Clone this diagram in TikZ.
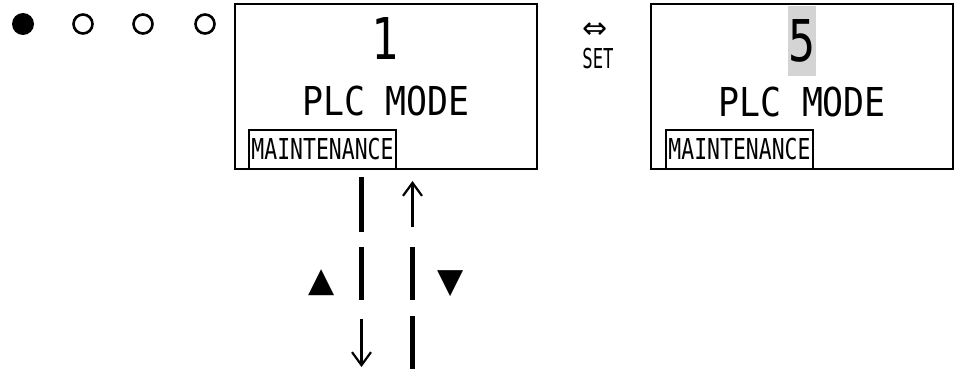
\documentclass[tikz,border=0pt]{standalone}
\usepackage{fontspec}
\usepackage{graphicx}
\newfontfamily\lcdfont{DejaVu Sans Mono}
\newfontfamily\symfont{DejaVu Sans}
\definecolor{cursorgray}{HTML}{D4D4D4}
\usetikzlibrary{positioning, arrows.meta}
\tikzset{
  panel/.style={
    rectangle, draw, line width=2.7pt, minimum width=302pt,
    minimum height=165pt, inner sep=0pt
  },
  modetag/.style={
    rectangle, draw, line width=2.7pt, minimum width=147pt,
    minimum height=39pt, inner sep=0pt, anchor=south west
  },
  lamp/.style={circle, draw, line width=2.6pt, minimum size=19pt, inner sep=0pt},
  lampon/.style={circle, fill=black, minimum size=22pt, inner sep=0pt},
  digit/.style={inner sep=0pt, font=\lcdfont\fontsize{57.6}{60}\selectfont},
  modetext/.style={inner sep=0pt, anchor=base, font=\lcdfont\fontsize{39.8}{42}\selectfont},
  keybar/.style={line width=5pt},
  keyarrow/.style={-{Straight Barb[length=13pt, width=19pt, line width=2.2pt]}, line width=2.2pt},
  keysym/.style={inner sep=0pt, font=\symfont\fontsize{34}{36}\selectfont}
}
\newcommand{\narrow}[2]{\scalebox{#1}[1]{#2}}

\begin{document}
\begin{tikzpicture}[x=1pt, y=-1pt]
\useasboundingbox (0,0) rectangle (960,369);

% Column positions
\def\xpanA{386}   % panel showing current value
\def\xpanB{802}   % panel while editing
\def\xdown{361.5} % left key column
\def\xup{412.5}   % right key column

% Status lamps
\node[lampon] (lampa) at (23,24) {};
\foreach \x/\n in {83/b, 143/c, 205/d} {
  \node[lamp] (lamp\n) at (\x,24) {};
}

% Panels
\node[panel] (panA) at (\xpanA, 86.5) {};
\node[panel] (panB) at (\xpanB, 86.5) {};

% Panel A contents
\node[digit] (valA) at (385, 39) {\narrow{0.78}{1}};
\node[modetext] (modeA) at (386, 115) {\narrow{0.876}{PLC MODE}};
\node[modetag] (tagA) at ([xshift=14pt]panA.south west)
  {\lcdfont\fontsize{28.8}{30}\selectfont\narrow{0.745}{MAINTENANCE}};

% Panel B contents (value under edit)
\node[digit, fill=cursorgray, minimum width=25pt, minimum height=69pt] (valB)
  at (802, 41) {\narrow{0.78}{5}};
\node[modetext] (modeB) at (802, 116) {\narrow{0.876}{PLC MODE}};
\node[modetag] (tagB) at ([xshift=15pt]panB.south west)
  {\lcdfont\fontsize{28.8}{30}\selectfont\narrow{0.745}{MAINTENANCE}};

% SET key between panels
\node[inner sep=0pt, anchor=base, font=\lcdfont\fontsize{27.4}{29}\selectfont]
  (setkey) at (598, 68) {\narrow{0.63}{SET}};
\node[keysym, font=\symfont\fontsize{30}{32}\selectfont, above=9pt of setkey.north, xshift=-3pt]
  (swap) {⇔};

% Key columns below panel A
\coordinate (downtop) at (\xdown, 319);
\coordinate (downtip) at (\xdown, 367);
\coordinate (uptop)   at (\xup, 181);
\coordinate (upfoot)  at (\xup, 227);
\draw[keybar] (\xdown, 177) -- (\xdown, 232);
\draw[keybar] (\xdown, 247) -- (\xdown, 300);
\draw[keyarrow] (downtop) -- (downtip);
\draw[keyarrow] (upfoot) -- (uptop);
\draw[keybar] (\xup, 247) -- (\xup, 300);
\draw[keybar] (\xup, 316) -- (\xup, 369);

\node[keysym] (keyup)   at (322, 283) {▲};
\node[keysym] (keydown) at (451, 284) {▼};

\end{tikzpicture}
\end{document}
